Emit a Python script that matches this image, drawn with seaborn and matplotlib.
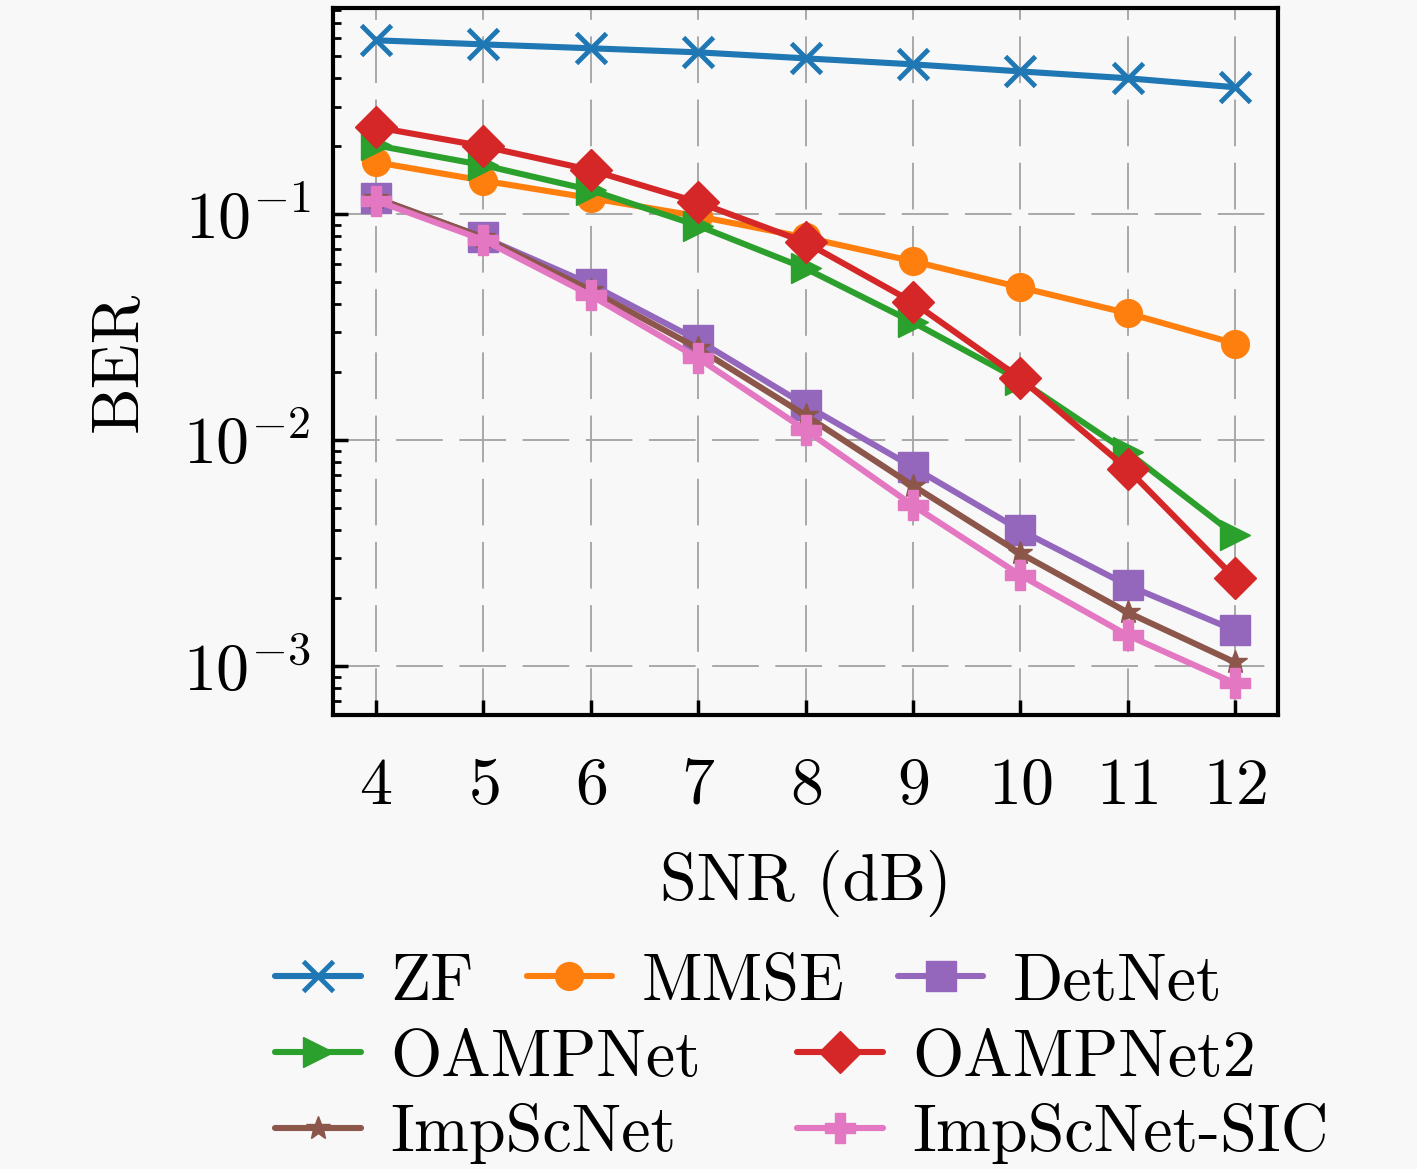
import numpy as np
import pandas as pd
import matplotlib
matplotlib.use('Agg')
import matplotlib.pyplot as plt
import seaborn as sns

# SNR points (dB)
snr_db = [4, 5, 6, 7, 8, 9, 10, 11, 12]

# BER
ber_zf = [0.589, 0.565, 0.543, 0.521, 0.490, 0.461, 0.429, 0.400, 0.365]
ber_mmse = [0.170, 0.141, 0.118, 0.098, 0.079, 0.062, 0.0475, 0.0365, 0.0268]
ber_detnet = [0.118, 0.079, 0.049, 0.0277, 0.0143, 0.0076, 0.0040, 0.00228, 0.00144]
ber_oampnet = [0.202, 0.165, 0.128, 0.089, 0.0576, 0.0333, 0.0184, 0.00885, 0.0038]
ber_oampnet2 = [0.243, 0.200, 0.157, 0.113, 0.0752, 0.0408, 0.0188, 0.00745, 0.00245]
ber_impscnet = [0.118, 0.079, 0.0461, 0.0255, 0.0129, 0.0063, 0.00316, 0.00173, 0.00104]
ber_impscnet_sic = [0.115, 0.077, 0.0438, 0.0231, 0.0111, 0.00515, 0.00253, 0.00137, 0.00084]

methods = ['ZF', 'MMSE', 'DetNet', 'OAMPNet', 'OAMPNet2', 'ImpScNet', 'ImpScNet-SIC']
series = [ber_zf, ber_mmse, ber_detnet, ber_oampnet, ber_oampnet2, ber_impscnet, ber_impscnet_sic]
colors = ['#1f77b4', '#ff7f0e', '#9467bd', '#2ca02c', '#d62728', '#8c564b', '#e377c2']
markers = ['x', 'o', 's', '>', 'D', '*', 'P']
msizes = [21, 20, 21, 22, 21, 18, 21]

sns.set_theme(style='ticks')
plt.rcParams.update({
    'font.family': 'serif',
    'font.serif': ['cmr10'],
    'mathtext.fontset': 'cm',
    'axes.formatter.use_mathtext': True,
    'font.size': 47.5,
    'axes.unicode_minus': True,
    'text.color': 'black',
    'axes.labelcolor': 'black',
    'xtick.color': 'black',
    'ytick.color': 'black',
})

bg = '#f8f8f8'
fig = plt.figure(figsize=(14.17, 11.69), dpi=100, facecolor=bg)
ax = fig.add_axes([0.235, 0.388, 0.667, 0.605])
ax.set_facecolor(bg)

for name, vals, c, m, ms in zip(methods, series, colors, markers, msizes):
    sns.lineplot(x=snr_db, y=vals, ax=ax, color=c, marker=m, markersize=ms,
                 markeredgecolor=c, markeredgewidth=3.5 if m == 'x' else 1,
                 label=name)

for line in ax.lines:
    line.set_linewidth(4.4)

handles, labels = ax.get_legend_handles_labels()
if ax.get_legend() is not None:
    ax.get_legend().remove()

ax.set_yscale('log')
ax.set_xlim(3.6, 12.4)
ax.set_ylim(6.06e-4, 0.817)
ax.set_xticks(snr_db)

ax.grid(True, which='major', color='#a8a8a8', linestyle=(0, (24, 8.5)), linewidth=1.4)
ax.set_axisbelow(True)

for side in ['left', 'bottom', 'right', 'top']:
    ax.spines[side].set_linewidth(3)
    ax.spines[side].set_color('black')

ax.tick_params(which='major', direction='in', length=11, width=2.5,
               labelsize=47.5, top=False, right=False)
ax.tick_params(which='minor', direction='in', length=6, width=2, top=False, right=False)
ax.tick_params(axis='x', which='minor', bottom=False)
ax.tick_params(axis='x', which='major', pad=30)
ax.tick_params(axis='y', which='major', pad=16)

ax.set_xlabel('SNR (dB)', fontsize=47.5)
ax.set_ylabel('BER', fontsize=47.5)
ax.xaxis.set_label_coords(0.5, -0.19)
ax.yaxis.set_label_coords(-0.195, 0.5)

leg_kw = dict(frameon=False, fontsize=47.5, handlelength=1.3, handletextpad=0.45,
              borderpad=0, borderaxespad=0, labelspacing=0.22, loc='upper left',
              bbox_transform=fig.transFigure)
leg1 = fig.legend(handles[:3], labels[:3], ncol=3, columnspacing=0.8,
                  bbox_to_anchor=(275 / 1417, 1 - 953 / 1169), **leg_kw)
# rows 2 and 3 share columns
order = [3, 5, 4, 6]
leg2 = fig.legend([handles[i] for i in order], [labels[i] for i in order], ncol=2,
                  columnspacing=1.45, bbox_to_anchor=(275 / 1417, 1 - 1029 / 1169), **leg_kw)

fig.savefig('out.png', dpi=100, facecolor=bg)
